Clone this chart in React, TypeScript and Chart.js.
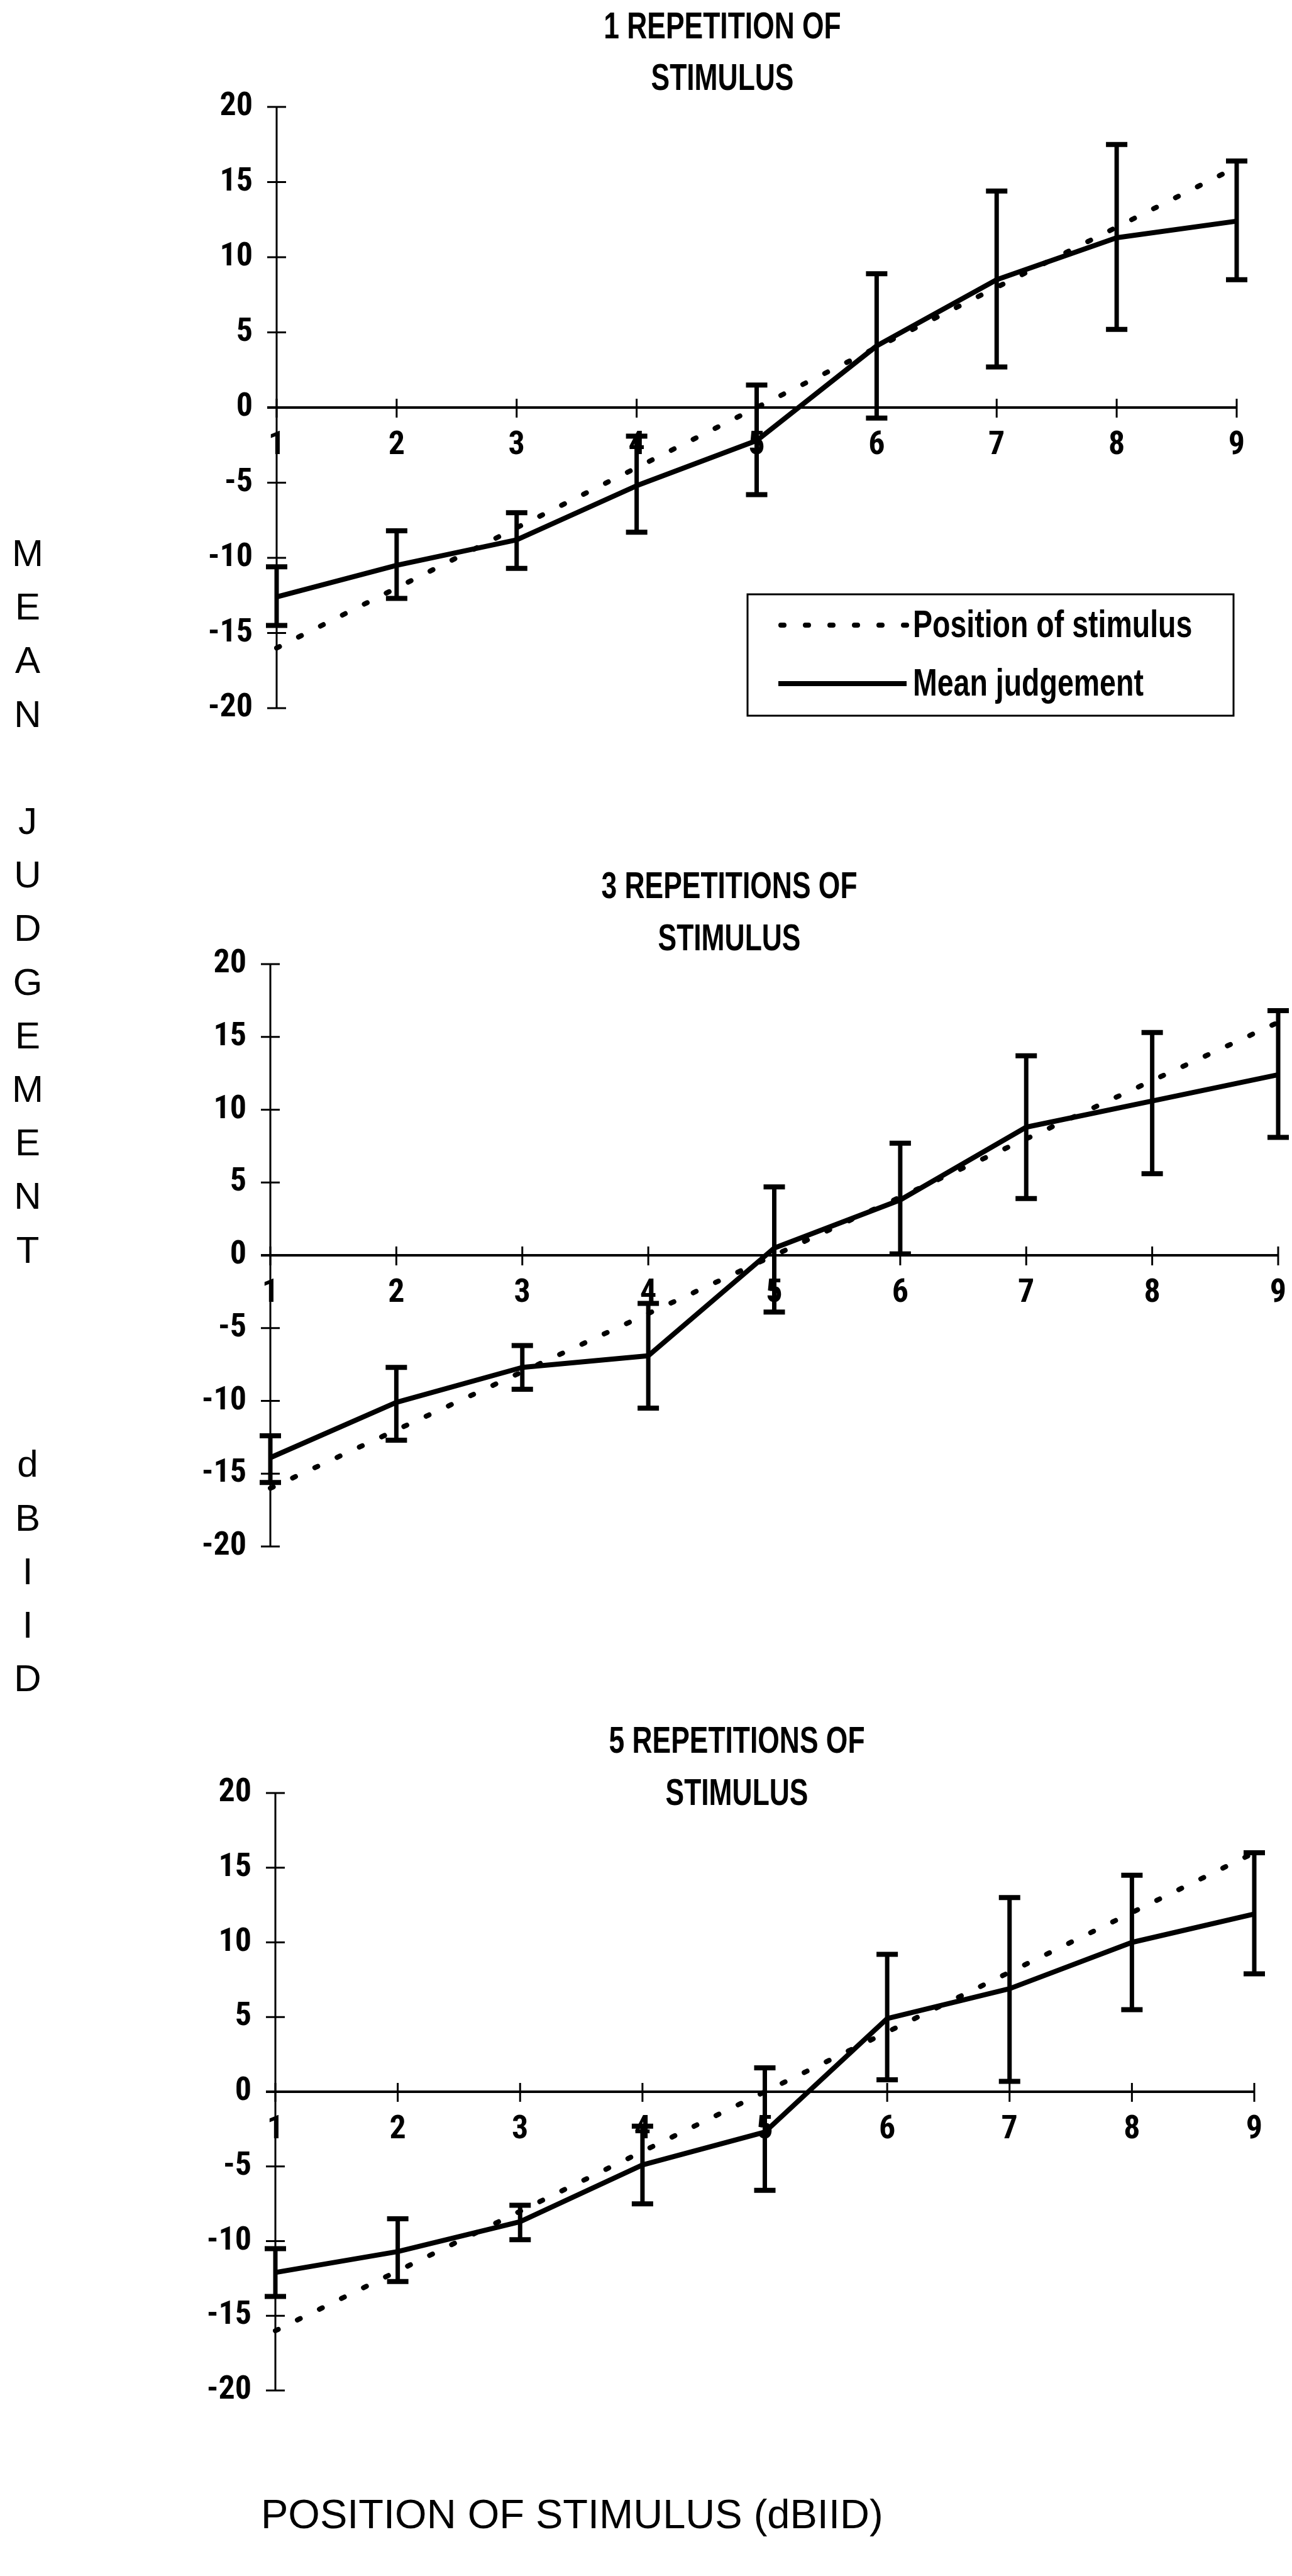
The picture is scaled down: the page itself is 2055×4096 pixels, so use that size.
import React, { useEffect, useRef } from 'react';
import { Chart, registerables } from 'chart.js';

Chart.register(...registerables);

// ---------------- data ----------------
const categories = ['1', '2', '3', '4', '5', '6', '7', '8', '9'];
const yTickValues = [-20, -15, -10, -5, 0, 5, 10, 15, 20];
const positionOfStimulus = [-16, -12, -8, -4, 0, 4, 8, 12, 16];

const mean1 = [-12.6, -10.5, -8.8, -5.2, -2.2, 4.1, 8.5, 11.3, 12.4];
const high1 = [-10.6, -8.2, -7.0, -1.9, 1.5, 8.9, 14.4, 17.5, 16.4];
const low1 = [-14.5, -12.7, -10.7, -8.3, -5.8, -0.7, 2.7, 5.2, 8.5];

const mean3 = [-13.9, -10.1, -7.7, -6.9, 0.5, 3.8, 8.8, 10.6, 12.4];
const high3 = [-12.4, -7.7, -6.2, -3.3, 4.7, 7.7, 13.7, 15.3, 16.8];
const low3 = [-15.6, -12.7, -9.2, -10.5, -3.9, 0.1, 3.9, 5.6, 8.1];

const mean5 = [-12.1, -10.7, -8.7, -4.9, -2.7, 4.9, 6.9, 10.0, 11.9];
const high5 = [-10.5, -8.5, -7.6, -2.3, 1.6, 9.2, 13.0, 14.5, 16.0];
const low5 = [-13.7, -12.7, -9.9, -7.5, -6.6, 0.8, 0.7, 5.5, 7.9];

const title1 = ['1 REPETITION OF', 'STIMULUS'];
const title3 = ['3 REPETITIONS OF', 'STIMULUS'];
const title5 = ['5 REPETITIONS OF', 'STIMULUS'];
const legendLabels = ['Position of stimulus', 'Mean judgement'];
const yTitleLetters = ['M', 'E', 'A', 'N', '', 'J', 'U', 'D', 'G', 'E', 'M', 'E', 'N', 'T', '', '', '', 'd', 'B', 'I', 'I', 'D'];
const xTitle = 'POSITION OF STIMULUS (dBIID)';

// ---------------- layout (output px) ----------------
const PAGE_W = 2055;
const PAGE_H = 4096;
const YW = 120;
const ARIAL = '"Liberation Sans", Arial, sans-serif';
const TICK_FAMILY = '"Liberation Sans Narrow", "Arial Narrow", "Noto Sans Condensed", "Roboto Condensed", "Open Sans Condensed", "DejaVu Sans Condensed", sans-serif';

type Panel = {
  top: number; height: number; left: number; right: number; areaTop: number; areaBottom: number;
  titleX: number; titleY: number[]; title: string[]; mean: number[]; high: number[]; low: number[]; legend: boolean;
};

const panels: Panel[] = [
  { top: 0, height: 1260, left: 440, right: 1967, areaTop: 170, areaBottom: 1126, titleX: 1149, titleY: [44, 126], title: title1, mean: mean1, high: high1, low: low1, legend: true },
  { top: 1300, height: 1250, left: 430, right: 2033, areaTop: 1533, areaBottom: 2459, titleX: 1160, titleY: [1411, 1494], title: title3, mean: mean3, high: high3, low: low3, legend: false },
  { top: 2650, height: 1250, left: 438, right: 1995, areaTop: 2851, areaBottom: 3801, titleX: 1172, titleY: [2770, 2853], title: title5, mean: mean5, high: high5, low: low5, legend: false },
];

const DOT_DASH = [5, 34];
const DOT_W = 8;
const MEAN_W = 8;

function narrowText(ctx: CanvasRenderingContext2D, text: string, x: number, y: number, align: 'left' | 'center', sx: number) {
  ctx.save();
  ctx.translate(x, y);
  ctx.scale(sx, 1);
  ctx.textAlign = align;
  ctx.textBaseline = 'middle';
  ctx.fillText(text, 0, 0);
  ctx.restore();
}

function makePlugin(p: Panel) {
  return {
    id: 'panelDecor',
    beforeDatasetsDraw(chart: any) {
      const ctx = chart.ctx as CanvasRenderingContext2D;
      const xs = chart.scales.x;
      const ys = chart.scales.y;
      const area = chart.chartArea;
      ctx.save();
      ctx.strokeStyle = '#000';
      ctx.lineCap = 'butt';
      // y axis
      ctx.lineWidth = 3;
      ctx.beginPath();
      ctx.moveTo(area.left, ys.getPixelForValue(yTickValues[yTickValues.length - 1]));
      ctx.lineTo(area.left, ys.getPixelForValue(yTickValues[0]));
      ctx.stroke();
      yTickValues.forEach((v) => {
        const y = ys.getPixelForValue(v);
        ctx.beginPath();
        ctx.moveTo(area.left - 15, y);
        ctx.lineTo(area.left + 15, y);
        ctx.stroke();
      });
      // x axis at y = 0
      const y0 = ys.getPixelForValue(0);
      ctx.lineWidth = 4;
      ctx.beginPath();
      ctx.moveTo(area.left - 15, y0);
      ctx.lineTo(xs.getPixelForValue(categories.length - 1), y0);
      ctx.stroke();
      ctx.lineWidth = 3;
      categories.forEach((_, i) => {
        const x = xs.getPixelForValue(i);
        ctx.beginPath();
        ctx.moveTo(x, y0 - 14);
        ctx.lineTo(x, y0 + 16);
        ctx.stroke();
      });
      ctx.restore();
    },
    afterDatasetsDraw(chart: any) {
      const ctx = chart.ctx as CanvasRenderingContext2D;
      const xs = chart.scales.x;
      const ys = chart.scales.y;
      ctx.save();
      ctx.strokeStyle = '#000';
      ctx.lineCap = 'butt';
      // error bars
      p.mean.forEach((_, i) => {
        const x = xs.getPixelForValue(i);
        const yh = ys.getPixelForValue(p.high[i]);
        const yl = ys.getPixelForValue(p.low[i]);
        ctx.lineWidth = 7;
        ctx.beginPath();
        ctx.moveTo(x, yh);
        ctx.lineTo(x, yl);
        ctx.stroke();
        ctx.lineWidth = 8;
        ctx.beginPath();
        ctx.moveTo(x - 17, yh);
        ctx.lineTo(x + 17, yh);
        ctx.moveTo(x - 17, yl);
        ctx.lineTo(x + 17, yl);
        ctx.stroke();
      });
      // titles
      ctx.fillStyle = '#000';
      ctx.font = `bold 60px ${ARIAL}`;
      p.title.forEach((t, i) => narrowText(ctx, t, p.titleX, p.titleY[i] - p.top, 'center', 0.74));
      // legend
      if (p.legend) {
        const L = 1189, R = 1962, T = 945 - p.top, B = 1138 - p.top;
        ctx.lineWidth = 3;
        ctx.strokeRect(L, T, R - L, B - T);
        const rows = [994 - p.top, 1087 - p.top];
        const ds = chart.data.datasets;
        rows.forEach((ry, k) => {
          const d = ds[k];
          ctx.save();
          ctx.lineWidth = d.borderWidth;
          ctx.setLineDash(d.borderDash || []);
          ctx.lineCap = d.borderCapStyle || 'butt';
          ctx.beginPath();
          ctx.moveTo(k === 0 ? 1242 : 1238, ry);
          ctx.lineTo(1442, ry);
          ctx.stroke();
          ctx.restore();
          ctx.font = `bold 62px ${ARIAL}`;
          narrowText(ctx, d.label, 1452, ry + 2, 'left', 0.75);
        });
      }
      ctx.restore();
    },
  };
}

function PanelChart({ p }: { p: Panel }) {
  const ref = useRef<HTMLCanvasElement | null>(null);
  useEffect(() => {
    if (!ref.current) return;
    const tickFont = { family: TICK_FAMILY, size: 52, weight: 'bold' as const };
    const chart = new Chart(ref.current, {
      type: 'line',
      data: {
        labels: categories,
        datasets: [
          { label: legendLabels[0], data: positionOfStimulus, borderColor: '#000', borderWidth: DOT_W, borderDash: DOT_DASH, borderCapStyle: 'round', pointRadius: 0, fill: false, tension: 0 },
          { label: legendLabels[1], data: p.mean, borderColor: '#000', borderWidth: MEAN_W, borderCapStyle: 'butt', borderJoinStyle: 'round', pointRadius: 0, fill: false, tension: 0 },
        ],
      },
      options: {
        animation: false,
        responsive: false,
        maintainAspectRatio: false,
        devicePixelRatio: 1,
        events: [],
        layout: { padding: { left: p.left - YW, right: PAGE_W - p.right, top: p.areaTop - p.top, bottom: p.top + p.height - p.areaBottom } },
        plugins: { legend: { display: false }, tooltip: { enabled: false }, title: { display: false } },
        scales: {
          x: {
            type: 'category', offset: false, position: { y: 0 } as any,
            grid: { display: false }, border: { display: false },
            ticks: { font: tickFont, color: '#000', padding: 22, maxRotation: 0, autoSkip: false },
            afterFit: (s: any) => { s.height = 0; s.paddingLeft = 0; s.paddingRight = 0; },
          },
          y: {
            type: 'linear', min: -20, max: 20, position: 'left',
            grid: { display: false }, border: { display: false },
            ticks: { font: tickFont, color: '#000', padding: 30 },
            afterBuildTicks: (s: any) => { s.ticks = yTickValues.map((v) => ({ value: v })); },
            afterFit: (s: any) => { s.width = YW; s.paddingTop = 0; s.paddingBottom = 0; },
          },
        },
      } as any,
      plugins: [makePlugin(p)],
    });
    return () => chart.destroy();
  }, [p]);
  return (
    <canvas ref={ref} width={PAGE_W} height={p.height}
      style={{ position: 'absolute', left: 0, top: p.top, width: PAGE_W, height: p.height }} />
  );
}

export default function App() {
  const letterTop = 880;
  const letterStep = 85.2;
  return (
    <div style={{ position: 'absolute', left: 0, top: 0, width: PAGE_W, height: PAGE_H, background: '#fff', overflow: 'hidden' }}>
      {panels.map((p, i) => <PanelChart key={i} p={p} />)}
      {yTitleLetters.map((ch, i) => ch ? (
        <div key={'l' + i} style={{ position: 'absolute', left: 4, width: 80, top: Math.round(letterTop + i * letterStep - 34), height: 68, lineHeight: '68px', textAlign: 'center', fontFamily: ARIAL, fontSize: 60, color: '#000' }}>{ch}</div>
      ) : null)}
      <div style={{ position: 'absolute', left: 415, top: 3998 - 37, height: 74, lineHeight: '74px', whiteSpace: 'nowrap', fontFamily: ARIAL, fontSize: 65, color: '#000' }}>{xTitle}</div>
    </div>
  );
}
